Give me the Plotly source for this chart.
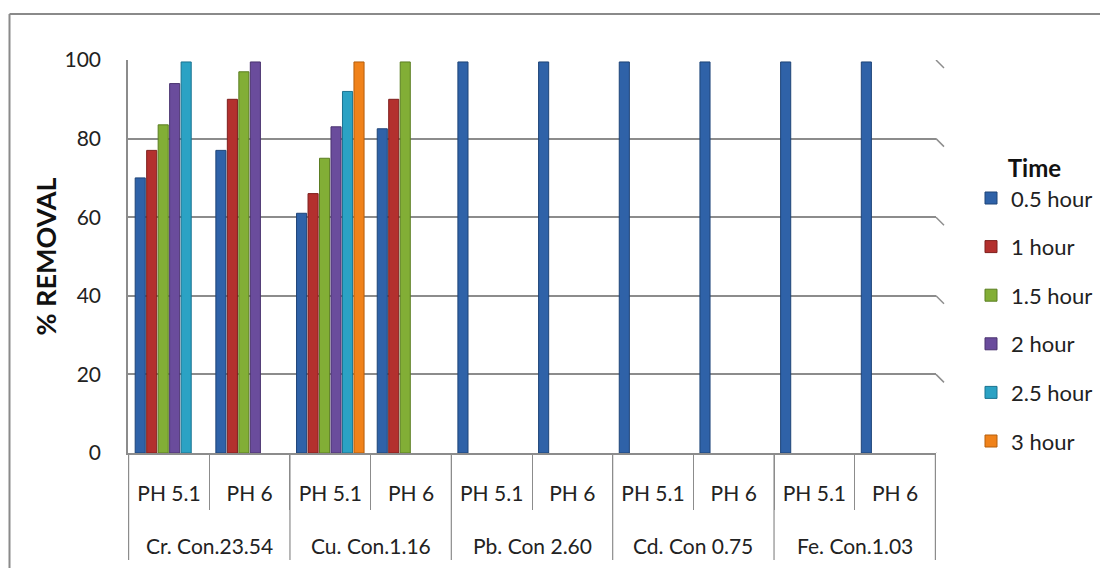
import plotly.graph_objects as go

groups = ["Cr. Con.23.54", "Cu. Con.1.16", "Pb. Con 2.60", "Cd. Con 0.75", "Fe. Con.1.03"]
ph_levels = ["PH 5.1", "PH 6"]

series_names = ["0.5 hour", "1 hour", "1.5 hour", "2 hour", "2.5 hour", "3 hour"]
# order: Cr5.1, Cr6, Cu5.1, Cu6, Pb5.1, Pb6, Cd5.1, Cd6, Fe5.1, Fe6
v_05 = [70, 77, 61, 82.5, 99.5, 99.5, 99.5, 99.5, 99.5, 99.5]
v_1 = [77, 90, 66, 90, None, None, None, None, None, None]
v_15 = [83.5, 97, 75, 99.5, None, None, None, None, None, None]
v_2 = [94, 99.5, 83, None, None, None, None, None, None, None]
v_25 = [99.5, None, 92, None, None, None, None, None, None, None]
v_3 = [None, None, 99.5, None, None, None, None, None, None, None]
series_values = [v_05, v_1, v_15, v_2, v_25, v_3]

colors = ["#2F62A8", "#B3302E", "#82AE36", "#6A4C9C", "#2BA2C4", "#F0821A"]
edges = ["#1E4478", "#7E1F1D", "#5B7E22", "#4A336F", "#1B7390", "#B55E0C"]

yticks = [0, 20, 40, 60, 80, 100]

# unique category keys; the axis shows only the pH part, the group row is added below
cat_keys = [g + " | " + p for g in groups for p in ph_levels]
cat_text = [p for _ in groups for p in ph_levels]

# figure geometry (figure px; page has an 8px body margin)
W, H = 1100, 560
L, R, T, B = 120, 172, 52, 115
PW, PH = W - L - R, H - T - B


def px_x(px):
    return (px - L) / PW


def px_y(py):
    return 1 - (py - T) / PH


fig = go.Figure()
for i, (name, vals) in enumerate(zip(series_names, series_values)):
    fig.add_trace(go.Bar(
        x=cat_keys, y=vals, name=name,
        marker=dict(color=colors[i], line=dict(color=edges[i], width=1)),
        legendgroup=name,
    ))

grid_col = "#8C8C8C"
shapes = []
unit = PH / 100.0
for v in yticks:
    shapes.append(dict(type="line", xref="paper", yref="y", x0=1.0, x1=1.0 + 8 / PW,
                       y0=v, y1=v - 8 / unit, line=dict(color=grid_col, width=1.5)))
# group dividers (category index space), running through both label rows
n_ph = len(ph_levels)
for gi in range(len(groups) + 1):
    xb = gi * n_ph - 0.5
    shapes.append(dict(type="line", xref="x", yref="paper", x0=xb, x1=xb,
                       y0=0, y1=px_y(552), line=dict(color=grid_col, width=1.2)))
# outer chart frame (top and left edges visible)
frame_col = "#8A8A8A"
shapes.append(dict(type="line", xref="paper", yref="paper",
                   x0=px_x(1.5), x1=px_x(W), y0=px_y(6), y1=px_y(6),
                   line=dict(color=frame_col, width=2)))
shapes.append(dict(type="line", xref="paper", yref="paper",
                   x0=px_x(1.5), x1=px_x(1.5), y0=px_y(6), y1=px_y(H),
                   line=dict(color=frame_col, width=2)))

annotations = []
for gi, g in enumerate(groups):
    annotations.append(dict(text=g, xref="x", yref="paper", x=gi * n_ph + (n_ph - 1) / 2,
                            y=px_y(537), xanchor="center", yanchor="middle", showarrow=False,
                            font=dict(size=21, color="#222222")))

fig.update_layout(
    width=W, height=H,
    margin=dict(l=L, r=R, t=T, b=B, autoexpand=False),
    paper_bgcolor="white", plot_bgcolor="white",
    font=dict(family="Lato, Open Sans, sans-serif", size=21, color="#222222"),
    barmode="group", bargap=0.146, bargroupgap=0.12,
    showlegend=True,
    legend=dict(
        title=dict(text="<b>Time</b>", font=dict(size=24, color="#111111"), side="top center"),
        x=px_x(963), xanchor="left", y=px_y(138), yanchor="top",
        font=dict(size=22, color="#222222"),
        tracegroupgap=17, traceorder="grouped",
    ),
    shapes=shapes,
    annotations=annotations,
)
fig.update_yaxes(
    range=[0, 100], tickvals=yticks, showgrid=True, gridcolor=grid_col, gridwidth=1.5,
    showline=True, linecolor=grid_col, linewidth=1.5, zeroline=False,
    tickfont=dict(size=21, color="#222222"), ticks="", ticklabelstandoff=21,
    title=dict(text="<b>% REMOVAL</b>", font=dict(size=27, color="#111111"), standoff=0),
)
fig.update_xaxes(
    type="category", categoryorder="array", categoryarray=cat_keys,
    tickvals=cat_keys, ticktext=cat_text,
    showline=True, linecolor=grid_col, linewidth=1.5,
    ticks="outside", tickson="boundaries", ticklen=55, tickcolor=grid_col, tickwidth=1.2,
    tickfont=dict(size=21, color="#222222"), showgrid=False, ticklabelstandoff=21,
    tickangle=0,
)

fig.write_html("out.html")
